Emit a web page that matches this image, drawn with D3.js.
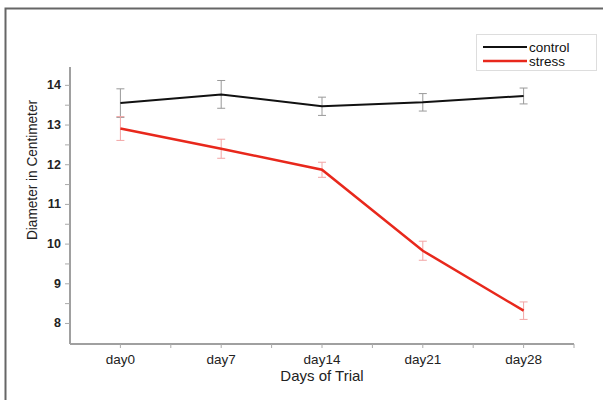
<!DOCTYPE html>
<html>
<head>
<meta charset="utf-8">
<script src="https://cdn.jsdelivr.net/npm/d3@7"></script>
<style>
  body { margin: 0; background: #fff; }
  svg { display: block; font-family: "Liberation Sans", Arial, sans-serif; }
</style>
</head>
<body>
<svg id="chart"></svg>
<script>
const days = ["day0", "day7", "day14", "day21", "day28"];
const control = [13.54, 13.76, 13.46, 13.56, 13.72];
const controlErr = [0.36, 0.35, 0.23, 0.22, 0.2];
const stress = [12.9, 12.39, 11.86, 9.82, 8.31];
const stressErr = [0.3, 0.24, 0.19, 0.24, 0.22];
const yTicks = [8, 9, 10, 11, 12, 13, 14];
const yMinor = [8.5, 9.5, 10.5, 11.5, 12.5, 13.5];

const width = 603, height = 400;
const svg = d3.select("#chart").attr("width", width).attr("height", height);

const x = d3.scaleBand().domain(days).range([70, 574]).padding(0);
const y = d3.scaleLinear().domain([7.47, 14.45]).range([344, 67]);
const cx = d => x(d) + x.bandwidth() / 2;

// outer frame (only top and left edges show)
svg.append("path")
    .attr("d", `M5.5,${height} L5.5,8.5 L${width},8.5`)
    .style("fill", "none")
    .style("stroke", "#666")
    .style("stroke-width", 2);

// y axis
const yAxis = svg.append("g")
    .attr("transform", "translate(70,0)")
    .call(d3.axisLeft(y).tickValues(yTicks).tickSize(5).tickPadding(4).tickFormat(d3.format("d")));
svg.append("g")
    .attr("transform", "translate(70,0)")
    .call(d3.axisLeft(y).tickValues(yMinor).tickSize(5).tickFormat(""))
    .select(".domain").remove();
yAxis.select(".domain").attr("d", `M0,${y.range()[1]}V${y.range()[0]}`);

// x axis
const xAxis = svg.append("g")
    .attr("transform", "translate(0,344)")
    .call(d3.axisBottom(x).tickSize(4).tickPadding(6));
xAxis.select(".domain").attr("d", `M70,0H574`);
svg.append("g")
    .attr("transform", "translate(0,344)")
    .selectAll("line")
    .data(days.map(d => x(d)).slice(1).concat([574]))
    .join("line")
        .attr("x1", d => d).attr("x2", d => d)
        .attr("y1", 0).attr("y2", 4)
        .style("stroke", "#aaa");

svg.selectAll(".domain").style("stroke", "#a0a0a0").style("stroke-width", 2);
svg.selectAll(".tick line").style("stroke", "#aaa");
yAxis.selectAll(".tick text")
    .style("font-size", "12.5px").style("font-weight", "bold").style("fill", "#222");
xAxis.selectAll(".tick text")
    .style("font-size", "13.5px").style("fill", "#222");

// axis titles
svg.append("text")
    .attr("x", 322).attr("y", 381)
    .attr("text-anchor", "middle")
    .style("font-size", "15px").style("fill", "#222")
    .text("Days of Trial");
svg.append("text")
    .attr("transform", "translate(37,170) rotate(-90)")
    .attr("text-anchor", "middle")
    .attr("textLength", 140).attr("lengthAdjust", "spacingAndGlyphs")
    .style("font-size", "15px").style("fill", "#222")
    .text("Diameter in Centimeter");

const series = [
    {name: "control", values: control, err: controlErr, color: "#111", errColor: "#999", w: 2},
    {name: "stress", values: stress, err: stressErr, color: "#e8281c", errColor: "#f2a5a5", w: 2.5}
];

const line = d3.line().x((d, i) => cx(days[i])).y(d => y(d));

series.forEach(s => {
    const g = svg.append("g");
    s.values.forEach((v, i) => {
        const px = cx(days[i]);
        const top = y(v + s.err[i]), bot = y(v - s.err[i]);
        g.append("path")
            .attr("d", `M${px},${top}V${bot}M${px - 4},${top}H${px + 4}M${px - 4},${bot}H${px + 4}`)
            .style("fill", "none")
            .style("stroke", s.errColor)
            .style("stroke-width", 1);
    });
    g.append("path")
        .datum(s.values)
        .attr("d", line)
        .style("fill", "none")
        .style("stroke", s.color)
        .style("stroke-width", s.w);
});

// legend
const legend = svg.append("g");
legend.append("rect")
    .attr("x", 476.5).attr("y", 34.5).attr("width", 120).attr("height", 36)
    .style("fill", "#fff").style("stroke", "#ddd");
series.forEach((s, i) => {
    const ly = 47 + i * 14;
    legend.append("line")
        .attr("x1", 483).attr("x2", 527).attr("y1", ly).attr("y2", ly)
        .style("stroke", s.color).style("stroke-width", s.w);
    legend.append("text")
        .attr("x", 529).attr("y", ly + 4.5)
        .style("font-size", "13.5px").style("fill", "#111")
        .text(s.name);
});
</script>
</body>
</html>
